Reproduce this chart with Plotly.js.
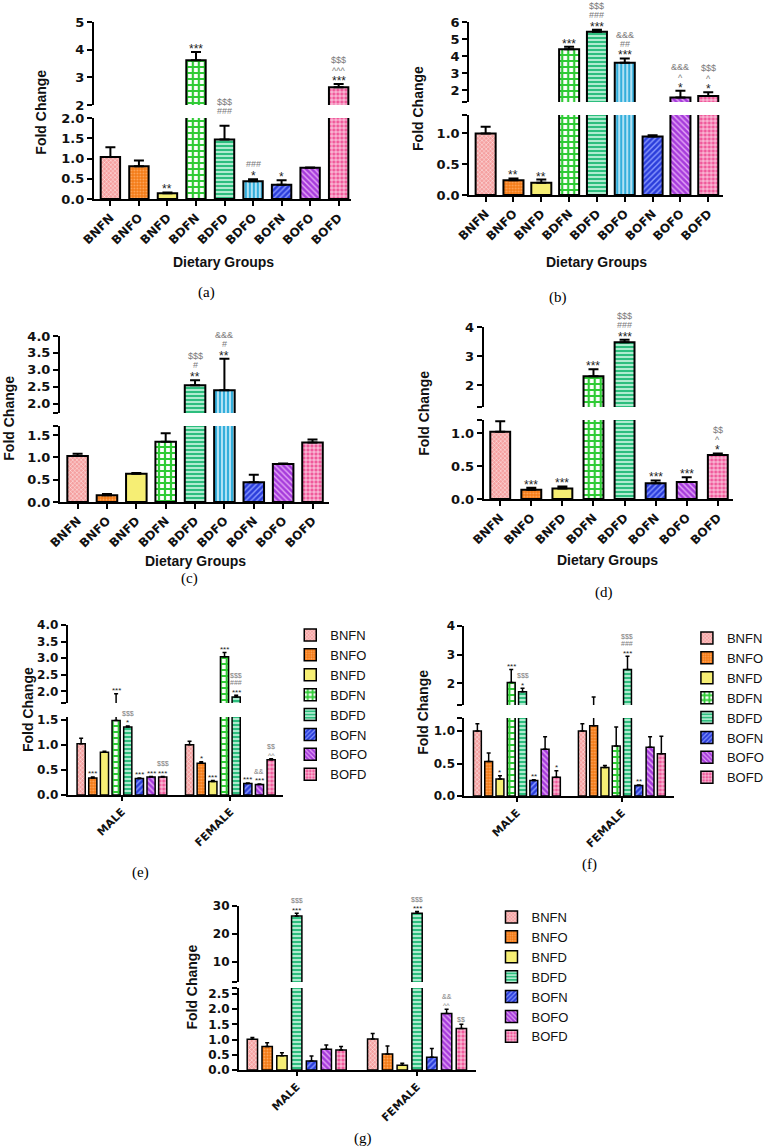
<!DOCTYPE html>
<html><head><meta charset="utf-8">
<script src="https://cdn.plot.ly/plotly-3.0.1.min.js"></script>
<style>html,body{margin:0;padding:0;background:#fff}#chart{width:769px;height:1148px}</style>
</head><body><div id="chart"></div>
<script>
// ---------------- DATA ----------------
const catsA = ['BNFN','BNFO','BNFD','BDFN','BDFD','BDFO','BOFN','BOFO','BOFD'];
const valsA = [1.04,0.81,0.14,3.62,1.47,0.44,0.35,0.77,2.64];
const errsA = [0.24,0.14,0.02,0.30,0.34,0.05,0.11,0.01,0.12];
const starsA = ['','','**','***','','*','*','','***'];
const marksA = ['','','','','$$$|###','###','','','$$$|^^^'];

const catsB = ['BNFN','BNFO','BNFD','BDFN','BDFD','BDFO','BOFN','BOFO','BOFD'];
const valsB = [1.00,0.24,0.20,4.40,5.42,3.60,0.95,1.57,1.65];
const errsB = [0.11,0.03,0.05,0.14,0.13,0.25,0.02,0.39,0.23];
const starsB = ['','**','**','***','***','***','','*','*'];
const marksB = ['','','','','$$$|###','&&&|##','','&&&|^','$$$|^'];

const catsC = ['BNFN','BNFO','BNFD','BDFN','BDFD','BDFO','BOFN','BOFO','BOFD'];
const valsC = [1.03,0.15,0.63,1.35,2.54,2.39,0.44,0.85,1.33];
const errsC = [0.05,0.03,0.02,0.19,0.15,0.94,0.17,0.01,0.07];
const starsC = ['','','','','**','**','','',''];
const marksC = ['','','','','$$$|#','&&&|#','','',''];

const catsD = ['BNFN','BNFO','BNFD','BDFN','BDFD','BOFN','BOFO','BOFD'];
const valsD = [1.02,0.14,0.16,2.31,3.48,0.24,0.26,0.67];
const errsD = [0.16,0.03,0.03,0.24,0.08,0.04,0.07,0.02];
const starsD = ['','***','***','***','***','***','***','*'];
const marksD = ['','','','','$$$|###','','','$$|^'];

const groups = ['MALE','FEMALE'];

const seriesE = ['BNFN','BNFO','BNFD','BDFN','BDFD','BOFN','BOFO','BOFD'];
const eMale = [1.02,0.34,0.85,1.48,1.35,0.33,0.36,0.36];
const eMaleErr = [0.11,0.02,0.02,0.45,0.02,0.01,0.01,0.01];
const eFemale = [1.00,0.63,0.27,3.04,1.83,0.23,0.21,0.70];
const eFemaleErr = [0.07,0.03,0.02,0.13,0.05,0.01,0.01,0.02];
const eMaleStars = ['','***','','***','*','***','***','***'];
const eMaleMarks = ['','','','','$$$','','','$$$'];
const eFemaleStars = ['','*','***','***','***','***','***',''];
const eFemaleMarks = ['','','','','$$$|###','','&&','$$|^^'];

const seriesF = ['BNFN','BNFO','BNFD','BDFN','BDFD','BOFN','BOFO','BOFD'];
const fMale = [1.00,0.53,0.26,2.03,1.71,0.24,0.72,0.29];
const fMaleErr = [0.11,0.13,0.05,0.46,0.12,0.01,0.19,0.10];
const fFemale = [1.00,1.08,0.44,0.77,2.49,0.16,0.75,0.65];
const fFemaleErr = [0.11,0.45,0.03,0.29,0.46,0.01,0.16,0.27];
const fMaleStars = ['','','*','***','*','**','','*'];
const fMaleMarks = ['','','','','$$$','','',''];
const fFemaleStars = ['','','','','***','**','',''];
const fFemaleMarks = ['','','','','$$$|###','','',''];

const seriesG = ['BNFN','BNFO','BNFD','BDFD','BOFN','BOFO','BOFD'];
const gMale = [1.01,0.77,0.47,26.4,0.30,0.68,0.66];
const gMaleErr = [0.06,0.13,0.10,1.0,0.16,0.14,0.11];
const gFemale = [1.02,0.53,0.16,27.4,0.42,1.86,1.37];
const gFemaleErr = [0.18,0.26,0.06,0.6,0.29,0.14,0.14];
const gMaleStars = ['','','','***','','',''];
const gMaleMarks = ['','','','$$$','','',''];
const gFemaleStars = ['','','','***','','',''];
const gFemaleMarks = ['','','','$$$','','&&|^^','$$'];

// tick values / labels
const aLowTV=[0,0.5,1,1.5,2], aLowTT=['0.0','0.5','1.0','1.5','2.0'];
const aUpTV=[2,3,4,5], aUpTT=['2','3','4','5'];
const bLowTV=[0,0.5,1,1.3], bLowTT=['0.0','0.5','1.0',''];
const bUpTV=[1.3,2,3,4,5,6], bUpTT=['','2','3','4','5','6'];
const cLowTV=[0,0.5,1,1.5,1.7], cLowTT=['0.0','0.5','1.0','1.5',''];
const cUpTV=[1.72,2,2.5,3,3.5,4], cUpTT=['','2.0','2.5','3.0','3.5','4.0'];
const dLowTV=[0,0.5,1,1.2], dLowTT=['0.0','0.5','1.0',''];
const dUpTV=[1.25,2,3,4], dUpTT=['','2','3','4'];
const eLowTV=[0,0.5,1,1.5], eLowTT=['0.0','0.5','1.0','1.5'];
const eUpTV=[1.65,2,2.5,3,3.5,4], eUpTT=['','2.0','2.5','3.0','3.5','4.0'];
const fLowTV=[0,0.5,1,1.2], fLowTT=['0.0','0.5','1.0',''];
const fUpTV=[1.25,2,3,4], fUpTT=['','2','3','4'];
const gLowTV=[0,0.5,1,1.5,2,2.5,2.7], gLowTT=['0.0','0.5','1.0','1.5','2.0','2.5',''];
const gUpTV=[2.9,10,20,30], gUpTT=['','10','20','30'];

// ---------------- STYLE ----------------
const FONT = 'Liberation Sans, Arial, Helvetica, sans-serif';
const TICKFONT = 'DejaVu Sans, Liberation Sans, Arial, sans-serif';
const SERIF = 'Liberation Serif, Times New Roman, serif';
const STYLE = {
  BNFN:{bg:'#F5A0A0', fg:'#FFFFFF', shape:'x', size:3, sol:0.25},
  BNFO:{bg:'#F47B16', fg:'#FFA75E', shape:'.', size:3, sol:0.3},
  BNFD:{bg:'#F6EE74', fg:'#F6EE74', shape:'', size:4, sol:0.3},
  BDFN:{bg:'#FFFFFF', fg:'#2FCB35', shape:'+', size:6, sol:0.6},
  BDFD:{bg:'#2DBE7E', fg:'#E8FFF3', shape:'-', size:4, sol:0.35},
  BDFO:{bg:'#33AEDB', fg:'#E8F8FF', shape:'|', size:4, sol:0.35},
  BOFN:{bg:'#2B3EDB', fg:'#8C9BFF', shape:'/', size:4, sol:0.35},
  BOFO:{bg:'#A63CDB', fg:'#E6A8F7', shape:'\\', size:4, sol:0.35},
  BOFD:{bg:'#F0589A', fg:'#FFFFFF', shape:'+', size:4, sol:0.3}
};
const BARGAP = 0.14, BARGROUPGAP = 0.3;

const W=769, H=1148;
const fx = p => p/W, fy = p => 1 - p/H;

const P = [
  {kind:'single', cats:catsA, vals:valsA, errs:errsA, stars:starsA, marks:marksA,
   lowTV:aLowTV, lowTT:aLowTT, upTV:aUpTV, upTT:aUpTT,
   x0:97, x1:363, lowT:118, lowB:199, upT:22, upB:105, lowR:[0,2], upR:[2,5], xr:[-0.58,8.44], w:0.68,
   xt:[231,262], yt:[42,112], lab:['(a)',213,292]},
  {kind:'single', cats:catsB, vals:valsB, errs:errsB, stars:starsB, marks:marksB,
   lowTV:bLowTV, lowTT:bLowTT, upTV:bUpTV, upTT:bUpTT,
   x0:485, x1:747, lowT:115, lowB:195, upT:22, upB:102, lowR:[0,1.3], upR:[1.3,6], xr:[-0.59,8.52], w:0.72,
   xt:[617,262], yt:[432,108], lab:['(b)',577,297]},
  {kind:'single', cats:catsC, vals:valsC, errs:errsC, stars:starsC, marks:marksC,
   lowTV:cLowTV, lowTT:cLowTT, upTV:cUpTV, upTT:cUpTT,
   x0:62, x1:340, lowT:426, lowB:502, upT:336, upB:413, lowR:[0,1.7], upR:[1.72,4], xr:[-0.6,8.56], w:0.7,
   xt:[202,561], yt:[9,418], lab:['(c)',196,578]},
  {kind:'single', cats:catsD, vals:valsD, errs:errsD, stars:starsD, marks:marksD,
   lowTV:dLowTV, lowTT:dLowTT, upTV:dUpTV, upTT:dUpTT,
   x0:500, x1:758, lowT:420, lowB:499, upT:327, upB:407, lowR:[0,1.2], upR:[1.25,4], xr:[-0.53,7.5], w:0.64,
   xt:[628,560], yt:[438,413], lab:['(d)',624,592]},
  {kind:'group', series:seriesE, male:eMale, maleErr:eMaleErr, female:eFemale, femaleErr:eFemaleErr,
   maleStars:eMaleStars, maleMarks:eMaleMarks, femaleStars:eFemaleStars, femaleMarks:eFemaleMarks,
   lowTV:eLowTV, lowTT:eLowTT, upTV:eUpTV, upTT:eUpTT,
   x0:70, x1:293, lowT:717, lowB:795, upT:625, upB:703, lowR:[0,1.55], upR:[1.65,4], xr:[-0.5,1.49],
   yt:[29,710], lab:['(e)',145,872], legend:'legend', leg:[300,620]},
  {kind:'group', series:seriesF, male:fMale, maleErr:fMaleErr, female:fFemale, femaleErr:fFemaleErr,
   maleStars:fMaleStars, maleMarks:fMaleMarks, femaleStars:fFemaleStars, femaleMarks:fFemaleMarks,
   lowTV:fLowTV, lowTT:fLowTT, upTV:fUpTV, upTT:fUpTT,
   x0:480, x1:697, lowT:718, lowB:796, upT:626, upB:705, lowR:[0,1.2], upR:[1.25,4], xr:[-0.5,1.5],
   yt:[437,712], lab:['(f)',609,864], legend:'legend2', leg:[710,623]},
  {kind:'group', series:seriesG, male:gMale, maleErr:gMaleErr, female:gFemale, femaleErr:gFemaleErr,
   maleStars:gMaleStars, maleMarks:gMaleMarks, femaleStars:gFemaleStars, femaleMarks:gFemaleMarks,
   lowTV:gLowTV, lowTT:gLowTT, upTV:gUpTV, upTT:gUpTT,
   x0:247, x1:492, lowT:988, lowB:1070, upT:906, upB:982, lowR:[0,2.7], upR:[2.9,30], xr:[-0.48,1.49],
   yt:[198,987], lab:['(g)',375,1138], legend:'legend3', leg:[508,902]}
];

// ---------------- BUILD ----------------
const traces = [], annotations = [];
const layout = {
  width:W, height:H, margin:{l:0,r:0,t:0,b:0},
  paper_bgcolor:'#fff', plot_bgcolor:'rgba(0,0,0,0)',
  barmode:'group', bargap:BARGAP, bargroupgap:BARGROUPGAP,
  showlegend:true, font:{family:FONT, color:'#000'}, annotations
};

function fmtSym(s){ return s.replace(/\$/g,'&#36;').replace(/&(?!#)/g,'&amp;'); }

function markerOne(name, lw){
  const s = STYLE[name];
  return {color:s.bg, line:{color:'#000', width:lw},
          pattern:{shape:s.shape, bgcolor:s.bg, fgcolor:s.fg, size:s.size, solidity:s.sol, fillmode:'replace'}};
}

const axisBase = {showline:true, linewidth:2, linecolor:'#000', ticks:'outside', ticklen:5, tickwidth:2,
  tickcolor:'#000', showgrid:false, zeroline:false, fixedrange:true};

P.forEach((p,i)=>{
  const n = i+1;
  const xId = n===1 ? 'x' : 'x'+n;
  const lowNum = 2*n-1, upNum = 2*n;
  const lowId = lowNum===1 ? 'y' : 'y'+lowNum, upId = 'y'+upNum;
  const xKey = n===1 ? 'xaxis' : 'xaxis'+n;
  const lowKey = lowNum===1 ? 'yaxis' : 'yaxis'+lowNum, upKey = 'yaxis'+upNum;
  const single = p.kind==='single';
  const yTickFont = {family:TICKFONT, size:single?13:12, weight:'bold', color:'#111'};
  const xTickFont = {family:TICKFONT, size:single?12:11, weight:'bold', color:'#111'};

  layout[xKey] = Object.assign({}, axisBase, {domain:[fx(p.x0), fx(p.x1)], anchor:lowId, type:'category',
    range:p.xr, tickangle:-45, ticklen:single?5:4, tickfont:xTickFont});
  layout[lowKey] = Object.assign({}, axisBase, {domain:[fy(p.lowB), fy(p.lowT)], anchor:xId, range:p.lowR,
    tickmode:'array', tickvals:p.lowTV, ticktext:p.lowTT, tickfont:yTickFont});
  layout[upKey] = Object.assign({}, axisBase, {domain:[fy(p.upB), fy(p.upT)], anchor:xId, range:p.upR,
    tickmode:'array', tickvals:p.upTV, ticktext:p.upTT, tickfont:yTickFont});

  const sS = single ? 12 : 8, sM = single ? 9 : 7;
  const base = single ? 6 : 5, step = single ? 9 : 7.5;
  const addSig = (xv, top, stars, marks) => {
    if(!stars && !marks) return;
    const yref = top <= p.lowR[1] ? lowId : upId;
    const lines = [];
    if(stars) lines.push({t:stars, star:true});
    else if(single) lines.push(null);
    if(marks) marks.split('|').reverse().forEach(m => lines.push({t:m, star:false}));
    lines.forEach((ln, L) => {
      if(!ln) return;
      const off = base + step*L;
      let corr = 0, size = ln.star ? sS : sM;
      if(ln.star) corr = -0.24*sS;
      else if(ln.t.indexOf('^')>=0) corr = -0.2*sM;
      annotations.push({x:xv, y:top, xref:xId, yref:yref, text:fmtSym(ln.t),
        showarrow:false, xanchor:'center', yanchor:'middle', yshift:off+corr, borderpad:0,
        font:{family:FONT, size:size, color: ln.star ? '#222' : '#7a7a7a'}});
    });
  };

  if(single){
    p.cats.forEach((c,j)=>{
      [lowId, upId].forEach(yid=>{
        traces.push({type:'bar', name:c, x:[c], y:[p.vals[j]], xaxis:xId, yaxis:yid, width:p.w, offset:-p.w/2,
          showlegend:false, hoverinfo:'skip', marker:markerOne(c, 2),
          error_y:{type:'data', symmetric:false, array:[p.errs[j]], arrayminus:[0],
                   color:'#000', thickness:2, width:5}});
      });
      addSig(j, p.vals[j]+p.errs[j], p.stars[j], p.marks[j]);
    });
    annotations.push({text:'<b>Dietary Groups</b>', x:fx(p.xt[0]), y:fy(p.xt[1]), xref:'paper', yref:'paper',
      showarrow:false, xanchor:'center', yanchor:'middle', font:{family:FONT, size:14, color:'#111'}});
  } else {
    const ns = p.series.length;
    p.series.forEach((s,k)=>{
      [lowId, upId].forEach((yid,j)=>{
        traces.push({type:'bar', name:s, x:groups, y:[p.male[k], p.female[k]], xaxis:xId, yaxis:yid,
          legend:p.legend, showlegend:j===0, hoverinfo:'skip', marker:markerOne(s, 1.5),
          error_y:{type:'data', symmetric:false, array:[p.maleErr[k], p.femaleErr[k]], arrayminus:[0,0],
                   color:'#000', thickness:1.5, width:2}});
      });
      const off = -(1-BARGAP)/2 + (k+0.5)*(1-BARGAP)/ns;
      addSig(0+off, p.male[k]+p.maleErr[k], p.maleStars[k], p.maleMarks[k]);
      addSig(1+off, p.female[k]+p.femaleErr[k], p.femaleStars[k], p.femaleMarks[k]);
    });
    layout[p.legend] = {x:fx(p.leg[0]), y:fy(p.leg[1]), xanchor:'left', yanchor:'top', xref:'paper', yref:'paper',
      font:{family:FONT, size:13, color:'#111'}, bgcolor:'rgba(0,0,0,0)', tracegroupgap:0, traceorder:'normal'};
  }
  annotations.push({text:'<b>Fold Change</b>', x:fx(p.yt[0]), y:fy(p.yt[1]), xref:'paper', yref:'paper',
    textangle:-90, showarrow:false, xanchor:'center', yanchor:'middle', font:{family:FONT, size:14, color:'#111'}});
  annotations.push({text:p.lab[0], x:fx(p.lab[1]), y:fy(p.lab[2]), xref:'paper', yref:'paper',
    showarrow:false, xanchor:'center', yanchor:'middle', font:{family:SERIF, size:15, color:'#000'}});
});

Plotly.newPlot('chart', traces, layout, {displayModeBar:false, staticPlot:true});
</script></body></html>
